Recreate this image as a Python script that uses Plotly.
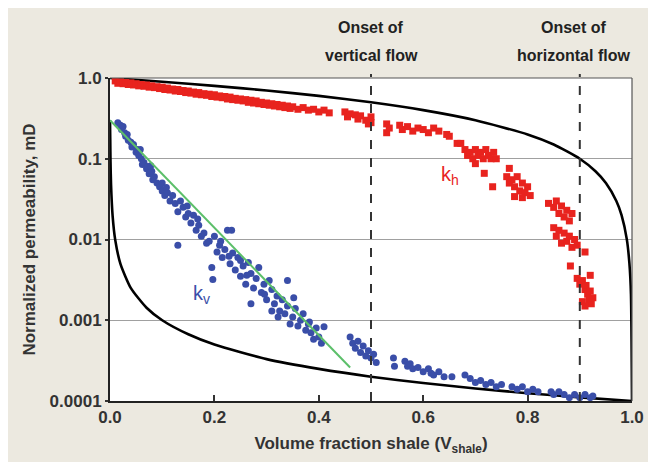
import math
import plotly.graph_objects as go

# ---------------- data ----------------
kh_x = [0.01, 0.015, 0.02, 0.025, 0.03, 0.035, 0.04, 0.045, 0.05, 0.055, 0.06, 0.065, 0.07, 0.075, 0.08, 0.085,
        0.09, 0.095, 0.1, 0.105, 0.11, 0.115, 0.12, 0.125, 0.13, 0.135, 0.14, 0.145, 0.15, 0.155, 0.16, 0.165,
        0.17, 0.175, 0.18, 0.185, 0.19, 0.195, 0.2, 0.205, 0.21, 0.215, 0.22, 0.225, 0.23, 0.235, 0.24, 0.245,
        0.25, 0.255, 0.26, 0.265, 0.27, 0.275, 0.28, 0.285, 0.29, 0.295, 0.3, 0.305, 0.31, 0.315, 0.32, 0.325,
        0.33, 0.335, 0.34, 0.345, 0.35, 0.36, 0.37, 0.38, 0.39, 0.4, 0.41, 0.42,
        0.45, 0.455, 0.46, 0.47, 0.475, 0.48, 0.49, 0.495, 0.5, 0.5,
        0.53, 0.53, 0.535, 0.555, 0.56, 0.57, 0.58, 0.59, 0.6, 0.61, 0.62, 0.63, 0.645, 0.665,
        0.65, 0.672, 0.68, 0.685, 0.69, 0.695, 0.7, 0.705, 0.71, 0.715, 0.72, 0.725, 0.73, 0.735, 0.74,
        0.7, 0.717, 0.733, 0.765,
        0.76, 0.765, 0.77, 0.775, 0.78, 0.785, 0.79, 0.795, 0.8, 0.805, 0.775, 0.79,
        0.84, 0.85, 0.855, 0.86, 0.865, 0.87, 0.875, 0.88, 0.885,
        0.85, 0.855, 0.86, 0.865, 0.87, 0.875, 0.88, 0.885, 0.89, 0.895,
        0.91, 0.882, 0.92,
        0.895, 0.9, 0.905, 0.91, 0.912, 0.915, 0.918, 0.92, 0.922, 0.925, 0.905, 0.91]
kh_y = [0.92, 0.86, 0.9, 0.85, 0.88, 0.83, 0.87, 0.82, 0.85, 0.8, 0.83, 0.79, 0.82, 0.77, 0.8, 0.76,
        0.78, 0.74, 0.77, 0.72, 0.75, 0.71, 0.73, 0.69, 0.72, 0.68, 0.7, 0.66, 0.69, 0.65, 0.67, 0.63,
        0.66, 0.62, 0.64, 0.61, 0.63, 0.59, 0.62, 0.58, 0.6, 0.57, 0.59, 0.55, 0.58, 0.54, 0.56, 0.53,
        0.55, 0.52, 0.54, 0.5, 0.53, 0.49, 0.52, 0.48, 0.5, 0.47, 0.49, 0.46, 0.48, 0.45, 0.47, 0.44,
        0.46, 0.43, 0.45, 0.42, 0.44, 0.41, 0.43, 0.4, 0.41, 0.38, 0.4, 0.37,
        0.38, 0.33, 0.36, 0.35, 0.31, 0.34, 0.3, 0.27, 0.33, 0.28,
        0.27, 0.21, 0.24, 0.26, 0.23, 0.25, 0.22, 0.24, 0.23, 0.21, 0.24, 0.22, 0.2, 0.155,
        0.19, 0.155, 0.13, 0.11, 0.12, 0.1, 0.13, 0.11, 0.12, 0.1, 0.13, 0.11, 0.1, 0.12, 0.1,
        0.087, 0.066, 0.045, 0.076,
        0.06, 0.05, 0.055, 0.045, 0.06, 0.04, 0.05, 0.038, 0.045, 0.035, 0.034, 0.033,
        0.028, 0.025, 0.03, 0.021, 0.026, 0.019, 0.023, 0.017, 0.021,
        0.014, 0.011, 0.013, 0.009, 0.012, 0.0095, 0.011, 0.008, 0.01, 0.0085,
        0.007, 0.0047, 0.0036,
        0.0033, 0.0028, 0.0031, 0.0024, 0.0027, 0.0021, 0.0018, 0.0023, 0.0016, 0.0019, 0.0017, 0.0015]

kv_x = [0.015, 0.02, 0.022, 0.025, 0.028, 0.03, 0.033, 0.035, 0.04, 0.042, 0.045, 0.05, 0.052, 0.055, 0.06,
        0.062, 0.065, 0.07, 0.072, 0.075, 0.08, 0.082, 0.085, 0.09, 0.095, 0.1, 0.1, 0.105, 0.11, 0.115,
        0.12, 0.125, 0.13, 0.135, 0.14, 0.145, 0.15, 0.155, 0.16, 0.165, 0.17, 0.175, 0.18, 0.185, 0.13,
        0.19, 0.195, 0.197, 0.2, 0.205, 0.21, 0.215, 0.22, 0.225, 0.23, 0.233, 0.235, 0.24, 0.245, 0.25, 0.25,
        0.255, 0.26, 0.265, 0.27, 0.27, 0.275, 0.28, 0.285, 0.29, 0.295, 0.3, 0.305, 0.31, 0.31, 0.315, 0.32,
        0.325, 0.33, 0.335, 0.34, 0.34, 0.345, 0.35, 0.355, 0.36, 0.365, 0.37, 0.375, 0.38, 0.385, 0.39,
        0.395, 0.4, 0.405, 0.41,
        0.212, 0.228, 0.262, 0.296, 0.322, 0.352, 0.382, 0.168, 0.148, 0.108, 0.078, 0.058,
        0.46, 0.465, 0.47, 0.475, 0.48, 0.485, 0.49, 0.495, 0.5, 0.505, 0.51,
        0.543, 0.545, 0.565, 0.57, 0.575, 0.58, 0.59, 0.6, 0.61, 0.615, 0.62, 0.63, 0.64, 0.655,
        0.68, 0.69, 0.7, 0.71, 0.72, 0.73, 0.74, 0.75, 0.77, 0.78, 0.79, 0.8, 0.81, 0.82,
        0.845, 0.85, 0.86, 0.87, 0.88, 0.89, 0.9, 0.91, 0.92, 0.925]
kv_y = [0.28, 0.26, 0.23, 0.25, 0.21, 0.19, 0.2, 0.17, 0.16, 0.14, 0.15, 0.12, 0.13, 0.11, 0.1,
        0.085, 0.09, 0.075, 0.08, 0.065, 0.07, 0.055, 0.06, 0.05, 0.045, 0.04, 0.05, 0.035, 0.038, 0.03,
        0.035, 0.028, 0.022, 0.03, 0.025, 0.019, 0.021, 0.016, 0.02, 0.013, 0.015, 0.011, 0.012, 0.009, 0.0085,
        0.0095, 0.0045, 0.0032, 0.011, 0.007, 0.0085, 0.006, 0.0075, 0.013, 0.005, 0.013, 0.0068, 0.0042, 0.006,
        0.0035, 0.0055, 0.0047, 0.0028, 0.0052, 0.0038, 0.0016, 0.0025, 0.0033, 0.0045, 0.0022, 0.0028, 0.0018,
        0.0031, 0.0024, 0.0013, 0.0016, 0.002, 0.0013, 0.0018, 0.0012, 0.0015, 0.0031, 0.0009, 0.0011, 0.0014,
        0.00085, 0.001, 0.0012, 0.00075, 0.0009, 0.0007, 0.00058, 0.0008, 0.00062, 0.00052, 0.00083,
        0.0095, 0.0062, 0.0036, 0.0021, 0.0011, 0.0019, 0.00095, 0.018, 0.026, 0.044, 0.082, 0.13,
        0.00062, 0.00052, 0.00045, 0.00055, 0.0004, 0.00048, 0.00036, 0.00042, 0.00034, 0.00038, 0.0003,
        0.00034, 0.00027, 0.00031, 0.00027, 0.00029, 0.00025, 0.00026, 0.00023, 0.00025, 0.00022, 0.00021,
        0.00023, 0.0002, 0.0002,
        0.00021, 0.00019, 0.00017, 0.00018, 0.00016, 0.00017, 0.00015, 0.00016, 0.00015, 0.00014, 0.00015,
        0.00013, 0.00014, 0.00013,
        0.00013, 0.00012, 0.00013, 0.00012, 0.00011, 0.00012, 0.00011, 0.00012, 0.00011, 0.000115]

fit_x = [0.0, 0.46]
fit_y = [0.3, 0.00026]

upper_x = [0.0, 0.1, 0.2, 0.3, 0.4, 0.5, 0.6, 0.7, 0.8, 0.85, 0.9, 0.93, 0.95, 0.97, 0.98, 0.99, 0.995, 0.998, 1.0]
upper_y = [1.0, 0.9, 0.8, 0.7, 0.6, 0.5, 0.4, 0.3, 0.2, 0.15, 0.1, 0.07, 0.05, 0.03, 0.02, 0.0101, 0.0051,
           0.0021, 0.0001]

lower_x = [0.0, 0.0005, 0.001, 0.002, 0.005, 0.01, 0.02, 0.04, 0.07, 0.1, 0.15, 0.2, 0.3, 0.4, 0.5, 0.6,
           0.7, 0.8, 0.9, 1.0]
lower_y = [0.3, 0.17, 0.091, 0.048, 0.0196, 0.0099, 0.005, 0.0025, 0.00143, 0.001, 0.00067, 0.0005,
           0.00033, 0.00025, 0.0002, 0.000167, 0.000143, 0.000125, 0.000111, 0.0001]

onset_x = [0.5, 0.9]
onset_label_x = [0.5, 0.888]
onset_line1 = ["Onset of", "Onset of"]
onset_line2 = ["vertical flow", "horizontal flow"]

kh_label_pos = (0.652, 0.062)
kv_label_pos = (0.175, 0.0021)

x_ticks = [0.0, 0.2, 0.4, 0.6, 0.8, 1.0]
x_tick_text = ["0.0", "0.2", "0.4", "0.6", "0.8", "1.0"]
y_ticks = [1.0, 0.1, 0.01, 0.001, 0.0001]
y_tick_text = ["1.0", "0.1", "0.01", "0.001", "0.0001"]

# ---------------- figure ----------------
FONT = "Liberation Sans Narrow, Arial Narrow, Liberation Sans, sans-serif"
TXT = "#333333"
RED = "#e8231e"
BLUE = "#3a4ea8"
GREEN = "#5cbf6a"
BG = "#ece9e0"

fig = go.Figure()

fig.add_trace(go.Scatter(x=upper_x, y=upper_y, mode="lines",
                         line=dict(color="black", width=2.6, shape="spline", smoothing=0.6),
                         showlegend=False, hoverinfo="skip"))
fig.add_trace(go.Scatter(x=lower_x, y=lower_y, mode="lines",
                         line=dict(color="black", width=2.6, shape="spline", smoothing=0.6),
                         showlegend=False, hoverinfo="skip"))
fig.add_trace(go.Scatter(x=kh_x, y=kh_y, mode="markers",
                         marker=dict(symbol="square", size=7, color=RED),
                         name="kh", showlegend=False))
fig.add_trace(go.Scatter(x=kv_x, y=kv_y, mode="markers",
                         marker=dict(symbol="circle", size=7, color=BLUE),
                         name="kv", showlegend=False))
fig.add_trace(go.Scatter(x=fit_x, y=fit_y, mode="lines",
                         line=dict(color=GREEN, width=2),
                         showlegend=False, hoverinfo="skip"))

shapes = []
for xv in onset_x:
    shapes.append(dict(type="line", xref="x", yref="paper", x0=xv, x1=xv, y0=0, y1=1.012,
                       line=dict(color="#333333", width=2, dash="dash")))
# thin top/right frame
shapes.append(dict(type="line", xref="paper", yref="paper", x0=0, x1=1, y0=1, y1=1,
                   line=dict(color="#555555", width=1.2)))
shapes.append(dict(type="line", xref="paper", yref="paper", x0=1, x1=1, y0=0, y1=1,
                   line=dict(color="#555555", width=1.2)))

annotations = []
for xv, l1, l2 in zip(onset_label_x, onset_line1, onset_line2):
    annotations.append(dict(x=xv, y=1.155, xref="x", yref="paper", text="<b>" + l1 + "</b>",
                            showarrow=False, xanchor="center", yanchor="middle",
                            font=dict(family=FONT, size=16, color="#222222")))
    annotations.append(dict(x=xv, y=1.071, xref="x", yref="paper", text="<b>" + l2 + "</b>",
                            showarrow=False, xanchor="center", yanchor="middle",
                            font=dict(family=FONT, size=16, color="#222222")))
annotations.append(dict(x=kh_label_pos[0], y=math.log10(kh_label_pos[1]), xref="x", yref="y",
                        text="k<sub>h</sub>", showarrow=False,
                        font=dict(family=FONT, size=20, color=RED)))
annotations.append(dict(x=kv_label_pos[0], y=math.log10(kv_label_pos[1]), xref="x", yref="y",
                        text="k<sub>v</sub>", showarrow=False,
                        font=dict(family=FONT, size=20, color=BLUE)))

# the page body has an 8px margin: size the figure so the plot area lands where the reference has it
fig.update_layout(
    width=648, height=454,
    margin=dict(l=102, r=22, t=70, b=53),
    paper_bgcolor=BG, plot_bgcolor="white",
    font=dict(family=FONT, size=16, color=TXT),
    shapes=shapes, annotations=annotations,
    showlegend=False,
)
fig.update_xaxes(range=[0, 1], tickvals=x_ticks, ticktext=["<b>%s</b>" % t for t in x_tick_text],
                 showgrid=False, zeroline=False,
                 showline=True, linecolor="#222222", linewidth=2,
                 ticks="inside", ticklen=6, tickwidth=2, tickcolor="#333333",
                 tickfont=dict(family=FONT, size=17, color=TXT),
                 title=dict(text="<b>Volume fraction shale (V<sub>shale</sub>)</b>", standoff=11,
                            font=dict(family=FONT, size=17, color=TXT)))
fig.update_yaxes(type="log", range=[-4, 0], tickvals=y_ticks, ticktext=["<b>%s</b>" % t for t in y_tick_text],
                 showgrid=True, gridcolor="#a0a0a0", gridwidth=1, zeroline=False,
                 showline=True, linecolor="#222222", linewidth=2,
                 ticks="outside", ticklen=3, tickwidth=1.5, tickcolor="#333333",
                 tickfont=dict(family=FONT, size=17, color=TXT),
                 title=dict(text="<b>Normalized permeability, mD</b>", standoff=10,
                            font=dict(family=FONT, size=17, color=TXT)))

fig.write_html("out.html")
